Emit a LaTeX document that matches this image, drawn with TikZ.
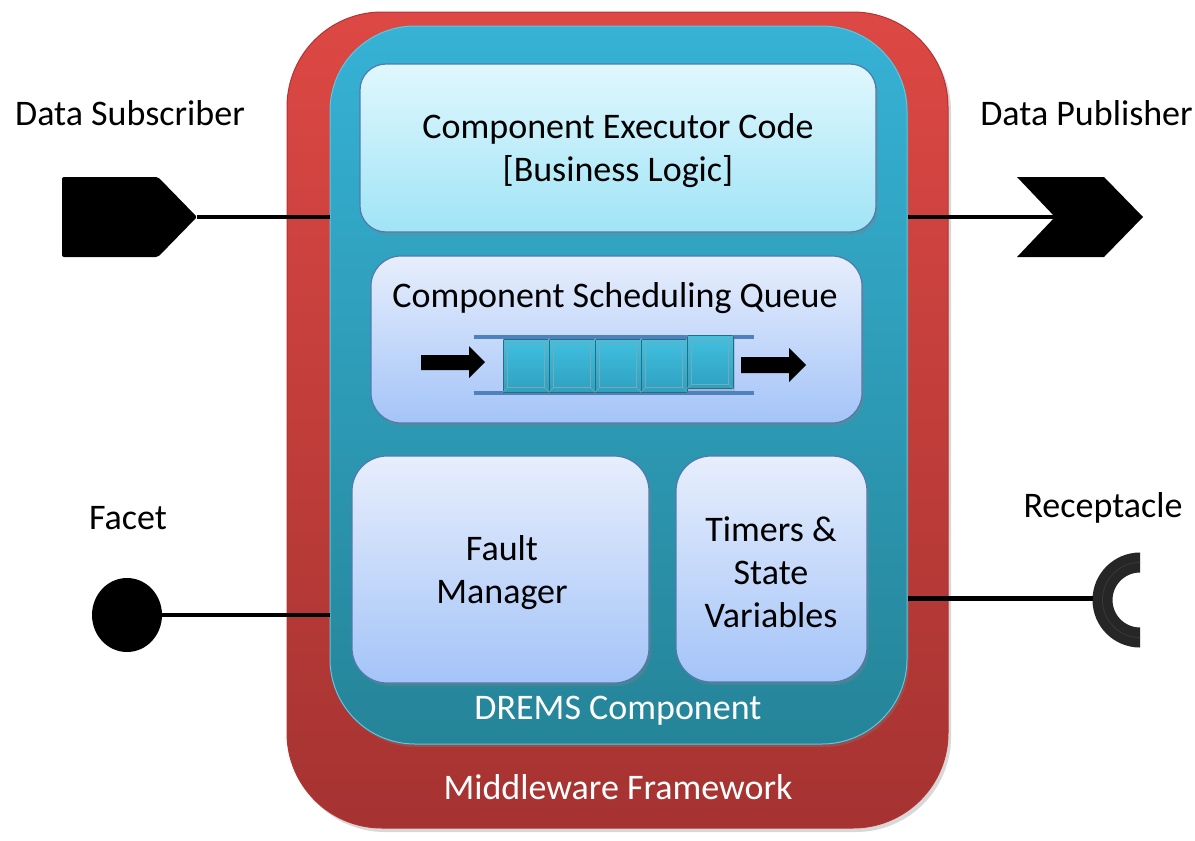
\documentclass[tikz,border=0pt]{standalone}
\usepackage{fontspec}
\setmainfont{Carlito}
\usetikzlibrary{shadows,calc,shapes.geometric}
\definecolor{redtop}{RGB}{221,72,68}
\definecolor{redbot}{RGB}{165,51,49}
\definecolor{rededge}{RGB}{180,50,48}
\definecolor{bluetop}{RGB}{54,178,213}
\definecolor{bluebot}{RGB}{37,132,152}
\definecolor{blueedge}{RGB}{90,200,225}
\definecolor{cyantop}{RGB}{224,247,253}
\definecolor{cyanbot}{RGB}{160,228,246}
\definecolor{lavtop}{RGB}{231,238,252}
\definecolor{lavbot}{RGB}{164,196,248}
\definecolor{boxedge}{RGB}{80,122,175}
\definecolor{railc}{RGB}{79,129,189}
\definecolor{celltop}{RGB}{66,192,224}
\definecolor{cellbot}{RGB}{46,160,192}
\definecolor{celledge}{RGB}{35,110,130}
\definecolor{recc}{RGB}{38,38,38}
\tikzset{
  lbl/.style={font=\fontsize{36}{43}\selectfont, align=center, inner sep=0pt},
  wlbl/.style={lbl, text=white},
  inbox/.style={rectangle, draw=boxedge, line width=1.2pt, rounded corners=30pt,
     drop shadow={shadow xshift=2pt, shadow yshift=-3pt, opacity=0.35}, inner sep=0pt},
  lavbox/.style={inbox, top color=lavtop, bottom color=lavbot},
  cell/.style={rectangle, draw=celledge, line width=1pt, top color=celltop, bottom color=cellbot,
     minimum width=46pt, minimum height=53pt, inner sep=0pt,
     drop shadow={shadow xshift=1.5pt, shadow yshift=-2pt, opacity=0.3}},
  bevel/.style={draw=celledge!60, line width=0.6pt},
  port/.style={line width=4pt, black},
  railline/.style={line width=4pt, railc},
}
\begin{document}
\begin{tikzpicture}[x=1pt,y=-1pt]
\fill[white] (0,0) rectangle (1195,841);
\useasboundingbox (0,0) rectangle (1195,841);

% middleware framework
\node[rectangle, rounded corners=95pt, draw=rededge, line width=1pt,
  top color=redtop, bottom color=redbot, minimum width=661pt, minimum height=816pt,
  drop shadow={shadow xshift=3pt, shadow yshift=-4pt, opacity=0.3}] (mw) at (617.5,420) {};
% DREMS component
\node[rectangle, rounded corners=85pt, draw=blueedge, line width=1pt,
  top color=bluetop, bottom color=bluebot, minimum width=577pt, minimum height=718pt,
  drop shadow={shadow xshift=2pt, shadow yshift=-3pt, opacity=0.3}] (comp) at (618.5,385) {};

% executor
\node[inbox, rounded corners=26pt, top color=cyantop, bottom color=cyanbot,
  minimum width=516pt, minimum height=168pt] (exec) at (618,148) {};
\node[lbl] (execlbl) at (618,151) {Component Executor Code\\{[}Business Logic{]}};
% queue box
\node[lavbox, minimum width=491pt, minimum height=167pt] (qbox) at (616.5,339.5) {};
\node[lbl] (qlbl) at (615,298) {Component Scheduling Queue};
% fault manager
\node[lavbox, rounded corners=35pt, minimum width=297pt, minimum height=227pt] (fault) at (500.5,569.5) {};
\node[lbl] (faultlbl) at (502,573) {Fault\\Manager};
% timers
\node[lavbox, rounded corners=35pt, minimum width=191pt, minimum height=226pt] (timers) at (771.5,569) {};
\node[lbl] (timerslbl) at (771,572.5) {Timers \&\\State\\Variables};

\node[wlbl] (dremslbl) at (618,711) {DREMS Component};
\node[wlbl] (mwlbl) at (618,787) {Middleware Framework};

% queue
\coordinate (railL1) at (474,337);
\coordinate (railR1) at (754,337);
\coordinate (railL2) at (474,393);
\coordinate (railR2) at (754,393);
\draw[railline] (railL1) -- (railR1);
\draw[railline] (railL2) -- (railR2);
\foreach \n/\cx/\cy in {c1/526/365.5, c2/572/365.5, c3/618/365.5, c4/664/365.5, c5/710/362}{
  \node[cell] (\n) at (\cx,\cy) {};
  \draw[bevel] ($(\n.north west)+(5,5)$) rectangle ($(\n.south east)+(-5,-5)$);
  \draw[bevel] (\n.north west) -- ++(5,5) (\n.north east) -- ++(-5,5)
               (\n.south west) -- ++(5,-5) (\n.south east) -- ++(-5,-5);
}
% queue arrows
\fill[black] (421,355) -- (469,355) -- (469,346) -- (485,362) -- (469,378) -- (469,370) -- (421,370) -- cycle;
\fill[black] (741,357) -- (789,357) -- (789,348) -- (806,365) -- (789,382) -- (789,373) -- (741,373) -- cycle;

% data subscriber
\node[lbl] (sublbl) at (130,113) {Data Subscriber};
\coordinate (subtip) at (197,217);
\fill[black, rounded corners=2pt] (62,177) -- (158,177) -- (subtip) -- (158,257) -- (62,257) -- cycle;
\draw[port] (subtip) -- (subtip -| comp.west);

% data publisher
\node[lbl, anchor=east] (publbl) at (1193,113) {Data Publisher};
\coordinate (pubnotch) at (1055,217);
\fill[black] (1017,177) -- (1104,177) -- (1143,217) -- (1104,257) -- (1017,257) -- (pubnotch) -- cycle;
\draw[port] (pubnotch -| comp.east) -- (pubnotch);

% facet
\node[lbl] (facetlbl) at (128,518) {Facet};
\node[ellipse, fill=black, minimum width=70pt, minimum height=74pt, inner sep=0pt] (facet) at (127,615) {};
\draw[port, line width=3.5pt] (facet.east) -- (facet.east -| comp.west);

% receptacle
\node[lbl] (reclbl) at (1103,508) {Receptacle};
\coordinate (recc) at (1140,600);
\begin{scope}
  \clip (1080,540) rectangle (1140,662);
  \draw[line width=20pt, recc] (recc) circle[radius=37.5];
  \draw[line width=0.8pt, gray!45!black] (recc) circle[radius=37.5];
\end{scope}
\coordinate (recleft) at (1092.5,598);
\draw[port, line width=5pt] (recleft -| comp.east) -- (recleft);
\end{tikzpicture}
\end{document}
